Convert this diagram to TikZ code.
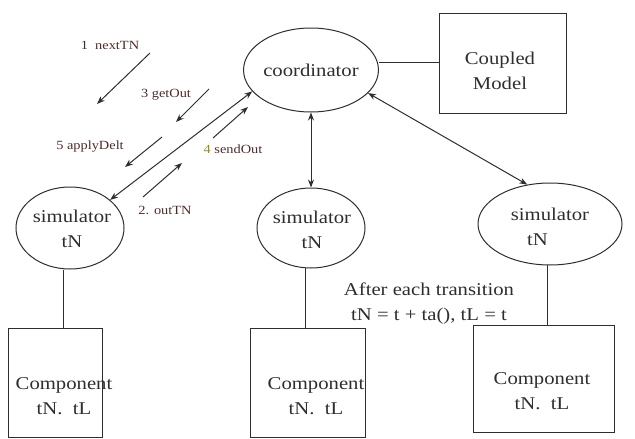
\documentclass[tikz,border=0pt]{standalone}
\usepackage{fontspec}
\setmainfont[FakeStretch=1.15]{Liberation Serif}
\usetikzlibrary{shapes.geometric,arrows.meta}
\definecolor{ink}{HTML}{2E2E2E}
\definecolor{lbl}{HTML}{4A2C2C}
\definecolor{olive}{HTML}{9A8A20}
\tikzset{
  every node/.style={inner sep=0pt, text=ink},
  bigtext/.style={font=\fontsize{18}{25}\selectfont, align=center},
  oval/.style={ellipse, draw=ink, line width=1pt, bigtext},
  boxnode/.style={rectangle, draw=ink, line width=1pt, bigtext},
  wire/.style={draw=ink, line width=1pt},
  msg/.style={wire, -{Stealth[length=8pt,width=6pt]}},
  both/.style={wire, {Stealth[length=8pt,width=6pt]}-{Stealth[length=8pt,width=6pt]}},
  lab/.style={font=\fontsize{12.5}{14}\selectfont, text=lbl}
}
\begin{document}
\begin{tikzpicture}[x=1pt,y=-1pt]
\useasboundingbox (0,0) rectangle (635,439);

% coordinator and the coupled model it drives
\node[oval, minimum width=108pt, minimum height=84pt] (coord) at (311,70) {coordinator};
\node[boxnode, minimum width=127pt, minimum height=100pt] (cm) at (502.5,63) {};
\node[bigtext] (cmt) at (500,71) {Coupled\\Model};

% simulators
\node[oval, minimum width=108pt, minimum height=82pt] (s1) at (70,228) {};
\node[bigtext] (s1t) at (72,229) {simulator\\tN};
\node[oval, minimum width=108pt, minimum height=80pt] (s2) at (311,228) {};
\node[bigtext] (s2t) at (312,230) {simulator\\tN};
\node[oval, minimum width=144pt, minimum height=82pt] (s3) at (550,224) {};
\node[bigtext, align=left] (s3t) at (550,227) {simulator\\\hspace*{0.9em}tN};

% components
\node[boxnode, minimum width=94pt, minimum height=109pt] (c1) at (55,382.5) {};
\node[bigtext] (c1t) at (64,396) {Component\\tN.\ \ tL};
\node[boxnode, minimum width=115pt, minimum height=109pt] (c2) at (307.5,382.5) {};
\node[bigtext] (c2t) at (316,396) {Component\\tN.\ \ tL};
\node[boxnode, minimum width=141pt, minimum height=107pt] (c3) at (543.5,378.5) {};
\node[bigtext] (c3t) at (542,391) {Component\\tN.\ \ tL};

% note on transitions
\node[bigtext] (note) at (429,304) {After each transition\\tN = t + ta(), tL = t};

% coordinator links
\coordinate (cmA) at (cm.west |- 0,62);
\coordinate (coA) at (coord.east |- 0,62);
\draw[wire] (coA) -- (cmA);
\draw[both] (coord.south) -- (s2.north);
\draw[both] (coord.-22) -- (s3.120);
\draw[both] (coord.200) -- (s1.35);

% simulator to component links
\coordinate (s1b) at (63,269.5);
\coordinate (c1n) at (63,328);
\draw[wire] (s1b) -- (c1n);
\coordinate (s2b) at (305,267.5);
\coordinate (c2n) at (305,328);
\draw[wire] (s2b) -- (c2n);
\coordinate (s3b) at (547,264.5);
\coordinate (c3n) at (547,325);
\draw[wire] (s3b) -- (c3n);

% message arrows
\coordinate (m1a) at (150,53);  \coordinate (m1b) at (97,104);
\coordinate (m3a) at (209,89);  \coordinate (m3b) at (176,122);
\coordinate (m5a) at (162,137); \coordinate (m5b) at (125,167);
\coordinate (m4a) at (213,138); \coordinate (m4b) at (248,107);
\coordinate (m2a) at (143,197); \coordinate (m2b) at (182,163);
\draw[msg] (m1a) -- (m1b);
\draw[msg] (m3a) -- (m3b);
\draw[msg] (m5a) -- (m5b);
\draw[msg] (m4a) -- (m4b);
\draw[msg] (m2a) -- (m2b);

% message labels
\node[lab] (l1) at (110,45) {1\ \ nextTN};
\node[lab] (l3) at (166,95) {3 getOut};
\node[lab] (l5) at (90,147) {5 applyDelt};
\node[lab] (l4) at (233,149) {\textcolor{olive}{4} sendOut};
\node[lab] (l2) at (165,210) {2. outTN};
\end{tikzpicture}
\end{document}
